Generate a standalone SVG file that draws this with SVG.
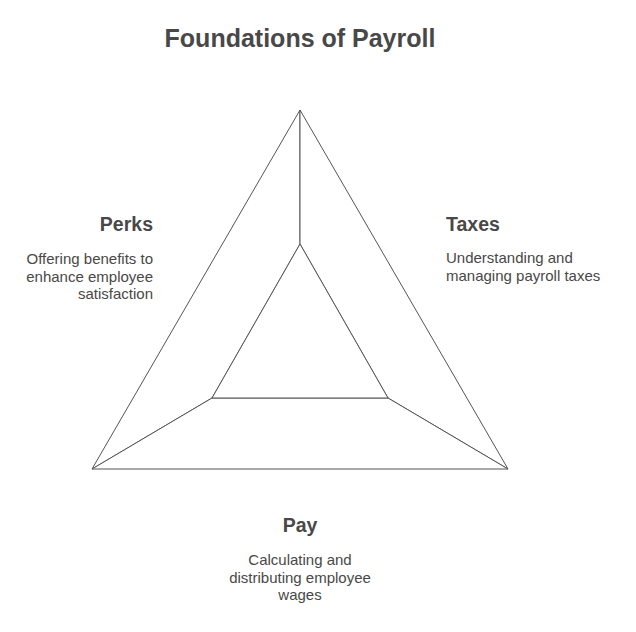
<svg xmlns="http://www.w3.org/2000/svg" width="636" height="632" viewBox="0 0 636 632">
<style>
.seg{fill:#ffffff;stroke:#555555;stroke-width:1;stroke-linejoin:round}
.title{font-family:"Liberation Sans",Arial,sans-serif;font-weight:bold;font-size:25px;fill:#484848}
.head{font-family:"Liberation Sans",Arial,sans-serif;font-weight:bold;font-size:19.5px;fill:#484848}
.desc{font-family:"Liberation Sans",Arial,sans-serif;font-size:15px;fill:#484848}
</style>
<rect width="636" height="632" fill="#ffffff"/>
<text class="title" x="300" y="47" text-anchor="middle">Foundations of Payroll</text>
<g id="connectors">
<line x1="300" y1="110" x2="300" y2="244" stroke="#555555" stroke-width="1"/>
</g>
<g id="perks">
<polygon class="seg" points="300,110 300,244 212,398 92,469"/>
<text class="head" x="153" y="231" text-anchor="end">Perks</text>
<text class="desc" text-anchor="end"><tspan x="153" y="264">Offering benefits to</tspan><tspan x="153" y="281.5">enhance employee</tspan><tspan x="153" y="299">satisfaction</tspan></text>
</g>
<g id="taxes">
<polygon class="seg" points="300,110 508,469 388,398 300,244"/>
<text class="head" x="446" y="231">Taxes</text>
<text class="desc"><tspan x="446" y="263">Understanding and</tspan><tspan x="446" y="280.5">managing payroll taxes</tspan></text>
</g>
<g id="pay">
<polygon class="seg" points="92,469 212,398 388,398 508,469"/>
<text class="head" x="300" y="532" text-anchor="middle">Pay</text>
<text class="desc" text-anchor="middle"><tspan x="300" y="565">Calculating and</tspan><tspan x="300" y="582.5">distributing employee</tspan><tspan x="300" y="600">wages</tspan></text>
</g>
<g id="core">
<polygon class="seg" points="300,244 388,398 212,398"/>
</g>
</svg>
